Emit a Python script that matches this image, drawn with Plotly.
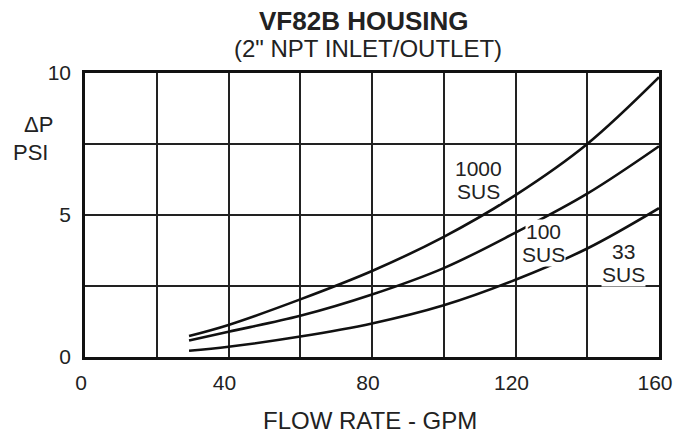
import plotly.graph_objects as go

# ---- data ----
flow_gpm = [29, 40, 60, 80, 100, 120, 140, 160]
dp_1000_sus = [0.74, 1.13, 2.03, 3.03, 4.23, 5.70, 7.50, 9.85]
dp_100_sus = [0.58, 0.89, 1.45, 2.20, 3.13, 4.38, 5.75, 7.42]
dp_33_sus = [0.22, 0.36, 0.72, 1.18, 1.82, 2.72, 3.82, 5.24]

x_grid = [0, 20, 40, 60, 80, 100, 120, 140, 160]
x_ticktext = ["0", "", "40", "", "80", "", "120", "", "160"]
y_grid = [0, 2.5, 5, 7.5, 10]
y_ticktext = ["0", "", "5", "", "10"]

# label text, anchor positions in data units (line1 y, line2 y)
labels = [
    ("1000", "SUS", 109.8, 6.64, 5.83),
    ("100", "SUS", 127.9, 4.42, 3.60),
    ("33", "SUS", 150.0, 3.71, 2.90),
]

FONT = "Liberation Sans, Arial, Helvetica, sans-serif"
W, H = 675, 440
L, R, T, B = 85, 16, 73, 83
PW, PH = W - L - R, H - T - B


def px(xp):
    return (xp - L) / PW


def py(yp):
    return (H - B - yp) / PH


fig = go.Figure()
for ys in (dp_1000_sus, dp_100_sus, dp_33_sus):
    fig.add_trace(go.Scatter(
        x=flow_gpm, y=ys, mode="lines",
        line=dict(color="#111111", width=2.6, shape="spline", smoothing=1.0),
        hoverinfo="skip", showlegend=False,
    ))

ann = []
for l1, l2, xv, y1, y2 in labels:
    for txt, yv in ((l1, y1), (l2, y2)):
        ann.append(dict(
            x=xv, y=yv, xref="x", yref="y", text=txt, showarrow=False,
            font=dict(family=FONT, size=21, color="#222222"),
            xanchor="center", yanchor="middle",
            bgcolor="white", borderpad=0,
        ))

ann += [
    dict(x=px(364), y=py(21), xref="paper", yref="paper",
         text="<b>VF82B HOUSING</b>", showarrow=False,
         font=dict(family=FONT, size=26, color="#222222"),
         xanchor="center", yanchor="middle"),
    dict(x=px(368), y=py(48), xref="paper", yref="paper",
         text="(2\" NPT INLET/OUTLET)", showarrow=False,
         font=dict(family=FONT, size=24, color="#222222"),
         xanchor="center", yanchor="middle"),
    dict(x=px(38), y=py(124), xref="paper", yref="paper",
         text="ΔP", showarrow=False,
         font=dict(family=FONT, size=22, color="#222222"),
         xanchor="center", yanchor="middle"),
    dict(x=px(30), y=py(152), xref="paper", yref="paper",
         text="PSI", showarrow=False,
         font=dict(family=FONT, size=22, color="#222222"),
         xanchor="center", yanchor="middle"),
    dict(x=px(370), y=py(420), xref="paper", yref="paper",
         text="FLOW RATE - GPM", showarrow=False,
         font=dict(family=FONT, size=24, color="#222222"),
         xanchor="center", yanchor="middle"),
]

fig.update_layout(
    width=W, height=H,
    margin=dict(l=L, r=R, t=T, b=B, autoexpand=False),
    paper_bgcolor="white", plot_bgcolor="white",
    annotations=ann,
    xaxis=dict(
        range=[0, 160], tickvals=x_grid, ticktext=x_ticktext,
        showgrid=True, gridcolor="#222222", gridwidth=1.6,
        showline=True, linecolor="#111111", linewidth=2.6, mirror=True,
        zeroline=False, ticks="", ticklabelstandoff=5,
        ticklabelshift=-4, automargin=False,
        tickfont=dict(family=FONT, size=21, color="#222222"),
        fixedrange=True,
    ),
    yaxis=dict(
        range=[0, 10], tickvals=y_grid, ticktext=y_ticktext,
        showgrid=True, gridcolor="#222222", gridwidth=1.6,
        showline=True, linecolor="#111111", linewidth=2.6, mirror=True,
        zeroline=False, ticks="", ticklabelstandoff=7, automargin=False,
        tickfont=dict(family=FONT, size=21, color="#222222"),
        fixedrange=True,
    ),
)

fig.write_html(
    "out.html",
    config={"displayModeBar": False},
    post_script="document.body.style.margin='0px';document.body.style.overflow='hidden';",
)
